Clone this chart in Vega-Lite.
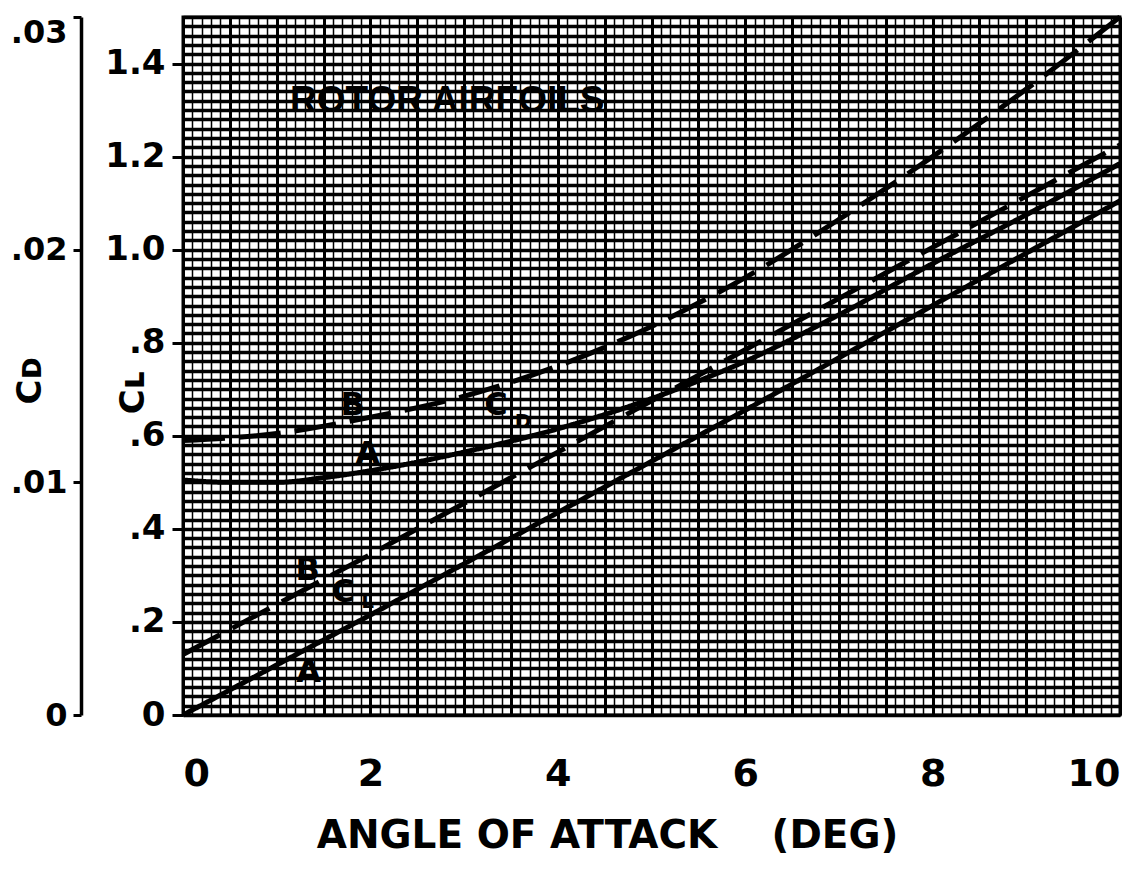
{
  "$schema": "https://vega.github.io/schema/vega-lite/v6.json",
  "width": 937,
  "height": 698,
  "autosize": {"type": "none"},
  "padding": {"left": 183, "top": 17, "right": 4, "bottom": 172},
  "background": "white",
  "config": {
    "view": {"stroke": "black", "strokeWidth": 3},
    "axis": {
      "gridColor": "black", "gridOpacity": 1, "domainColor": "black", "tickColor": "black",
      "labelColor": "black", "titleColor": "black",
      "labelFont": "DejaVu Sans", "titleFont": "DejaVu Sans",
      "labelFontWeight": "bold", "titleFontWeight": "bold"
    },
    "text": {"font": "DejaVu Sans", "fontWeight": "bold", "color": "black"}
  },
  "resolve": {"scale": {"y": "independent"}, "axis": {"x": "independent", "y": "independent"}},
  "layer": [
    {
      "data": {"values": [
        {"alpha": 0, "cl": 0, "curve": "A"},
        {"alpha": 2, "cl": 0.215, "curve": "A"},
        {"alpha": 4, "cl": 0.435, "curve": "A"},
        {"alpha": 6, "cl": 0.655, "curve": "A"},
        {"alpha": 8, "cl": 0.88, "curve": "A"},
        {"alpha": 10, "cl": 1.105, "curve": "A"},
        {"alpha": 0, "cl": 0.13, "curve": "B"},
        {"alpha": 2, "cl": 0.345, "curve": "B"},
        {"alpha": 4, "cl": 0.565, "curve": "B"},
        {"alpha": 6, "cl": 0.785, "curve": "B"},
        {"alpha": 8, "cl": 1.005, "curve": "B"},
        {"alpha": 10, "cl": 1.225, "curve": "B"}
      ]},
      "mark": {"type": "line", "color": "black", "strokeWidth": 5},
      "encoding": {
        "x": {"field": "alpha", "type": "quantitative", "scale": {"domain": [0, 10], "nice": false, "zero": false},
          "axis": {"orient": "bottom", "tickCount": 100, "grid": true, "gridWidth": 1.5, "labels": false, "ticks": false, "tickSize": 0, "domain": false, "title": null}},
        "y": {"field": "cl", "type": "quantitative", "scale": {"domain": [0, 1.5], "nice": false},
          "axis": {"orient": "left", "tickCount": 75, "grid": true, "gridWidth": 3.5, "labels": false, "ticks": false, "tickSize": 0, "domain": false, "title": null}},
        "detail": {"field": "curve"},
        "strokeDash": {"field": "curve", "type": "nominal", "scale": {"domain": ["A", "B"], "range": [[1, 0], [42, 14]]}, "legend": null}
      }
    },
    {
      "data": {"values": [
        {"alpha": 0, "cd": 0.0101, "curve": "A"},
        {"alpha": 0.5, "cd": 0.0100, "curve": "A"},
        {"alpha": 1, "cd": 0.0100, "curve": "A"},
        {"alpha": 1.5, "cd": 0.0102, "curve": "A"},
        {"alpha": 2, "cd": 0.0105, "curve": "A"},
        {"alpha": 3, "cd": 0.0113, "curve": "A"},
        {"alpha": 4, "cd": 0.0123, "curve": "A"},
        {"alpha": 5, "cd": 0.0136, "curve": "A"},
        {"alpha": 6, "cd": 0.0152, "curve": "A"},
        {"alpha": 7, "cd": 0.0172, "curve": "A"},
        {"alpha": 8, "cd": 0.0194, "curve": "A"},
        {"alpha": 9, "cd": 0.0215, "curve": "A"},
        {"alpha": 10, "cd": 0.0237, "curve": "A"},
        {"alpha": 0, "cd": 0.0118, "curve": "B"},
        {"alpha": 1, "cd": 0.0121, "curve": "B"},
        {"alpha": 2, "cd": 0.0128, "curve": "B"},
        {"alpha": 3, "cd": 0.0137, "curve": "B"},
        {"alpha": 4, "cd": 0.0150, "curve": "B"},
        {"alpha": 5, "cd": 0.0167, "curve": "B"},
        {"alpha": 6, "cd": 0.0188, "curve": "B"},
        {"alpha": 7, "cd": 0.0213, "curve": "B"},
        {"alpha": 8, "cd": 0.0240, "curve": "B"},
        {"alpha": 9, "cd": 0.0269, "curve": "B"},
        {"alpha": 10, "cd": 0.0300, "curve": "B"}
      ]},
      "mark": {"type": "line", "color": "black", "strokeWidth": 5, "interpolate": "monotone"},
      "encoding": {
        "x": {"field": "alpha", "type": "quantitative",
          "axis": {"orient": "bottom", "tickCount": 20, "grid": true, "gridWidth": 3, "labels": false, "ticks": false, "tickSize": 0, "domain": false, "title": null}},
        "y": {"field": "cd", "type": "quantitative", "scale": {"domain": [0, 0.03], "nice": false},
          "axis": {"orient": "left", "offset": 102, "values": [0, 0.01, 0.02, 0.03], "grid": false,
            "domain": true, "domainWidth": 3.5, "ticks": true, "tickSize": 8, "tickWidth": 3,
            "labelFontSize": 32, "labelPadding": 6,
            "labelBaseline": {"condition": {"test": "datum.value > 0.025", "value": "top"}, "value": "middle"},
            "labelExpr": "datum.value == 0 ? '0' : replace(format(datum.value, '.2f'), '0.', '.')",
            "title": "Cᴅ", "titleFontSize": 34, "titleX": -51, "titleY": 363, "titleAngle": 270, "titleBaseline": "middle", "titleAlign": "center"}},
        "detail": {"field": "curve"},
        "strokeDash": {"field": "curve", "type": "nominal", "scale": {"domain": ["A", "B"], "range": [[1, 0], [42, 14]]}, "legend": null}
      }
    },
    {
      "data": {"values": [
        {"alpha": 1.81, "cl": 0.667, "t": "B"},
        {"alpha": 1.97, "cl": 0.561, "t": "A"},
        {"alpha": 1.33, "cl": 0.312, "t": "B"},
        {"alpha": 1.34, "cl": 0.092, "t": "A"},
        {"alpha": 3.34, "cl": 0.667, "t": "C"},
        {"alpha": 1.71, "cl": 0.265, "t": "C"}
      ]},
      "mark": {"type": "text", "fontSize": 32, "align": "center", "baseline": "middle"},
      "encoding": {
        "x": {"field": "alpha", "type": "quantitative",
          "axis": {"orient": "bottom", "values": [0, 2, 4, 6, 8, 10], "grid": false, "ticks": false, "tickSize": 0, "domain": false,
            "labelFontSize": 38, "labelPadding": 40, "labelFlush": true,
            "title": "ANGLE OF ATTACK\u00a0\u00a0\u00a0\u00a0(DEG)", "titleFontSize": 39, "titleX": 424, "titleY": 120, "titleBaseline": "middle", "titleAlign": "center"}},
        "y": {"field": "cl", "type": "quantitative", "scale": {"domain": [0, 1.5], "nice": false},
          "axis": {"orient": "left", "values": [0, 0.2, 0.4, 0.6, 0.8, 1.0, 1.2, 1.4], "grid": false, "ticks": true, "tickSize": 11, "tickWidth": 3, "domain": false,
            "labelFontSize": 34, "labelPadding": 7,
            "labelExpr": "datum.value == 0 ? '0' : datum.value >= 1 ? format(datum.value, '.1f') : replace(format(datum.value, '.1f'), '0.', '.')",
            "title": "Cʟ", "titleFontSize": 34, "titleX": -50, "titleY": 375, "titleAngle": 270, "titleBaseline": "middle", "titleAlign": "center"}},
        "text": {"field": "t"}
      }
    },
    {
      "data": {"values": [
        {"alpha": 2.82, "cl": 1.32, "t": "ROTOR AIRFOILS"}
      ]},
      "mark": {"type": "text", "font": "Liberation Sans", "fontSize": 37, "align": "center", "baseline": "middle"},
      "encoding": {
        "x": {"field": "alpha", "type": "quantitative", "axis": null},
        "y": {"field": "cl", "type": "quantitative", "scale": {"domain": [0, 1.5], "nice": false}, "axis": null},
        "text": {"field": "t"}
      }
    },
    {
      "data": {"values": [
        {"alpha": 3.63, "cl": 0.630, "t": "D"},
        {"alpha": 1.97, "cl": 0.243, "t": "L"}
      ]},
      "mark": {"type": "text", "fontSize": 20, "align": "center", "baseline": "middle"},
      "encoding": {
        "x": {"field": "alpha", "type": "quantitative", "axis": null},
        "y": {"field": "cl", "type": "quantitative", "scale": {"domain": [0, 1.5], "nice": false}, "axis": null},
        "text": {"field": "t"}
      }
    }
  ]
}
